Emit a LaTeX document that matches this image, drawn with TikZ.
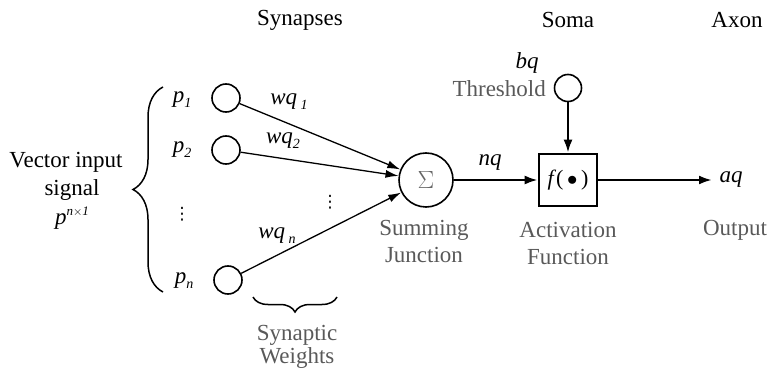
\documentclass[tikz,border=0pt]{standalone}
\usepackage{fontspec}
\setmainfont{Liberation Serif}
\newfontfamily\dotsfont{DejaVu Sans}
\usetikzlibrary{arrows.meta,decorations.pathreplacing}

% italic symbol with a small italic subscript / superscript
\newcommand\isub[2]{\textit{#1}\raisebox{-0.45ex}{\fontsize{14}{14}\selectfont\itshape #2}}
\newcommand\isup[2]{\textit{#1}\raisebox{0.9ex}{\fontsize{13}{13}\selectfont\itshape #2}}
% vertical ellipsis glyph
\newcommand\vdotsglyph{{\dotsfont\fontsize{17}{17}\selectfont ⋮}}

\tikzset{
  txt/.style={font=\fontsize{23}{26}\selectfont, inner sep=0pt, align=center},
  soft/.style={txt, text=black!65},
  synapse/.style={circle, draw, line width=1.6pt, minimum size=28pt, inner sep=0pt},
  sumnode/.style={circle, draw, line width=1.6pt, minimum size=54pt, inner sep=0pt,
    font=\fontsize{25}{25}\selectfont, text=black!60},
  actbox/.style={draw, line width=2.6pt, minimum width=58pt, minimum height=52pt,
    inner sep=0pt, font=\fontsize{22}{24}\selectfont},
  weightline/.style={line width=1.3pt, -{Latex[length=13pt,width=8pt]}},
  signalline/.style={line width=2.4pt, -{Latex[length=13pt,width=9pt]}},
  bracestyle/.style={line width=1.5pt, decorate}
}

\begin{document}
\begin{tikzpicture}[x=1pt,y=-1pt]
\useasboundingbox (0,0) rectangle (768,371);

% column headings
\node[txt] (hsyn)  at (300,20) {Synapses};
\node[txt] (hsoma) at (568,20) {Soma};
\node[txt] (haxon) at (737,20) {Axon};

% input vector
\node[txt] (vin)  at (66,162) {Vector input};
\node[txt] (vsig) at (72,190) {signal};
\node[txt] (vp)   at (72,218) {\isup{p}{n$\times$1}};
\draw[bracestyle, decoration={brace, amplitude=30pt}] (163,292) -- (163,87);

\node[txt] (p1) at (182,100) {\isub{p}{1}};
\node[txt] (p2) at (182,150) {\isub{p}{2}};
\node[txt] (pd) at (182,214) {\vdotsglyph};
\node[txt] (pn) at (184,281) {\isub{p}{n}};

% synapses
\node[synapse] (c1) at (226,98) {};
\node[synapse] (c2) at (226,150) {};
\node[synapse] (cn) at (228,280) {};

% summing junction
\node[sumnode] (sum) at (426,180) {$\Sigma$};
\node[soft] (sumA) at (424,230) {Summing};
\node[soft] (sumB) at (424,255) {Junction};

% weighted connections
\draw[weightline] (c1) -- (sum);
\draw[weightline] (c2) -- (sum);
\draw[weightline] (cn) -- (sum);
\node[txt] (w1) at (289,102) {\isub{wq}{ 1}};
\node[txt] (w2) at (283,141) {\isub{wq}{2}};
\node[txt] (wn) at (277,236) {\isub{wq}{ n}};
\node[txt] (wd) at (330,202) {\vdotsglyph};

\draw[bracestyle, decoration={brace, amplitude=15pt}] (337,297) -- (253,297);
\node[soft] (swA) at (297,335) {Synaptic};
\node[soft] (swB) at (297,358) {Weights};

% activation function and threshold
\node[actbox] (act) at (568,180) {\textit{f}(\,$\bullet$\,)};
\node[synapse, minimum size=27pt] (th) at (568,88) {};
\node[txt] (bq) at (527,63) {\textit{bq}};
\node[soft, anchor=east] (thl) at (546,89) {Threshold};
\draw[signalline] (th) -- (act);

\draw[signalline] (sum) -- (act);
\node[txt] (nq) at (490,163) {\textit{nq}};

\node[soft] (actA) at (568,230) {Activation};
\node[soft] (actB) at (568,257) {Function};

% output
\coordinate (oend) at (712,180);
\draw[signalline] (act) -- (oend);
\node[txt] (aq) at (731,180) {\textit{aq}};
\node[soft] (outl) at (735,230) {Output};
\end{tikzpicture}
\end{document}
